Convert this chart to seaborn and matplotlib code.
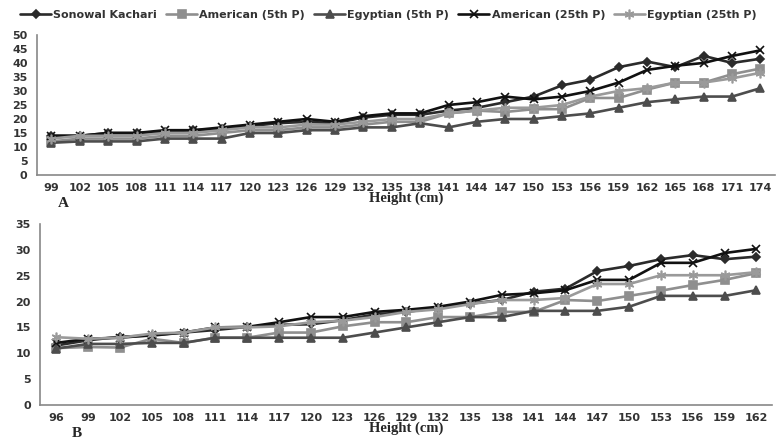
import numpy as np
import pandas as pd
import matplotlib
matplotlib.use("Agg")
import matplotlib.pyplot as plt
import seaborn as sns

# Panel A: height 99-174 cm
heights_a = [99, 102, 105, 108, 111, 114, 117, 120, 123, 126, 129, 132, 135,
             138, 141, 144, 147, 150, 153, 156, 159, 162, 165, 168, 171, 174]
sonowal_a = [14, 14, 15, 15, 15.5, 16, 16.5, 17.5, 18.5, 19, 18.5, 20.5, 21.5,
             21.5, 23, 24, 26, 28, 32, 34, 38.5, 40.5, 38.5, 42.5, 40, 41.5]
american5_a = [12, 13, 13, 13, 14, 14, 15, 16, 16, 17, 17, 18, 19,
               19, 22, 23, 22.5, 23.5, 23.5, 27.5, 27.5, 30.5, 33, 33, 36, 38]
egyptian5_a = [11.5, 12, 12, 12, 13, 13, 13, 15, 15, 16, 16, 17, 17,
               18.5, 17, 19, 20, 20, 21, 22, 24, 26, 27, 28, 28, 31]
american25_a = [14, 14, 15, 15, 16, 16, 17, 18, 19, 20, 19, 21, 22,
                22, 25, 26, 28, 27, 28, 30, 33, 37.5, 39, 40, 42.5, 44.5]
egyptian25_a = [13, 14, 14, 14, 15, 15, 16, 17, 17, 18, 18, 19, 20,
                20, 22, 23, 24, 24, 25, 28, 30, 31, 33, 33, 34.5, 36.5]

# Panel B: height 96-162 cm
heights_b = [96, 99, 102, 105, 108, 111, 114, 117, 120, 123, 126, 129,
             132, 135, 138, 141, 144, 147, 150, 153, 156, 159, 162]
sonowal_b = [11.5, 12.5, 13.2, 13.4, 14, 14.5, 15.1, 15.5, 15.6, 16.4, 17.5, 18,
             18.8, 19.6, 20.3, 21.9, 22.5, 25.9, 26.9, 28.2, 29, 28.2, 28.7]
american5_b = [11, 11.2, 11.1, 12.8, 12, 13, 13, 14, 14, 15.2, 16, 16,
               17, 17, 18, 18, 20.3, 20.1, 21.1, 22.1, 23.2, 24.2, 25.5]
egyptian5_b = [10.9, 11.8, 11.8, 12, 12, 13, 13, 13, 13, 13, 14, 15,
               16, 17, 17, 18.2, 18.2, 18.2, 19, 21.1, 21.1, 21.1, 22.2]
american25_b = [12, 12.8, 13, 13.5, 14, 15, 15.1, 16, 17, 17, 18, 18.4,
                19, 20, 21.3, 21.6, 22.2, 24.2, 24.2, 27.5, 27.5, 29.4, 30.2]
egyptian25_b = [13.1, 12.8, 13, 13.8, 14, 15, 15, 15.2, 16, 16.3, 17, 18,
                18.5, 19.5, 20.3, 20.3, 20.7, 23.4, 23.4, 25.1, 25.1, 25.1, 25.7]

series_names = ["Sonowal Kachari", "American (5th P)", "Egyptian (5th P)",
                "American (25th P)", "Egyptian (25th P)"]
series_colors = ["#2b2b2b", "#8f8f8f", "#4d4d4d", "#111111", "#9a9a9a"]
series_markers = ["D", "s", "^", "x", (6, 2, 0)]
series_msize = [4, 6, 6, 6, 7]

sns.set_style("white")
plt.rcParams['font.family'] = ['DejaVu Sans']

fig = plt.figure(figsize=(7.77, 4.42), dpi=100)
ax_a = fig.add_axes([0.048, 0.604, 0.949, 0.317])
ax_b = fig.add_axes([0.052, 0.084, 0.942, 0.409])


def draw_panel(ax, heights, values, ymax, letter, letter_x, letter_y):
    pos = np.arange(len(heights))
    for name, vals, col, mk, ms in zip(series_names, values, series_colors,
                                       series_markers, series_msize):
        sns.lineplot(x=pos, y=vals, ax=ax, color=col, marker=mk, markersize=ms,
                     markeredgecolor=col, markerfacecolor=col, markeredgewidth=1.2,
                     linewidth=1.9, label=name, legend=False)
    ax.set_xlim(-0.5, len(heights) - 0.5)
    ax.set_ylim(0, ymax)
    ax.set_yticks(np.arange(0, ymax + 1, 5))
    ax.set_xticks(pos)
    ax.set_xticklabels([str(h) for h in heights], fontsize=8, fontweight='bold',
                       color='#333333')
    ax.set_xticks(np.arange(-0.5, len(heights)), minor=True)
    ax.tick_params(axis='x', which='major', length=0, pad=6)
    ax.tick_params(axis='x', which='minor', length=4, color='#888888', direction='out')
    ax.tick_params(axis='y', length=4, color='#888888', direction='out',
                   labelsize=8, labelcolor='#333333', pad=3)
    for lab in ax.get_yticklabels():
        lab.set_fontweight('bold')
    for s in ['top', 'right']:
        ax.spines[s].set_visible(False)
    for s in ['left', 'bottom']:
        ax.spines[s].set_color('#888888')
        ax.spines[s].set_linewidth(1.2)
    ax.set_xlabel("Height (cm)", family='Liberation Serif', fontweight='bold',
                  fontsize=10.5, labelpad=-1)
    ax.text(letter_x, letter_y, letter, transform=ax.transAxes, family='Liberation Serif',
            fontweight='bold', fontsize=11, ha='left', va='center')


draw_panel(ax_a, heights_a,
           [sonowal_a, american5_a, egyptian5_a, american25_a, egyptian25_a],
           50, "A", 0.028, -0.2)
draw_panel(ax_b, heights_b,
           [sonowal_b, american5_b, egyptian5_b, american25_b, egyptian25_b],
           35, "B", 0.043, -0.16)

handles, labels = ax_a.get_legend_handles_labels()
fig.legend(handles, labels, loc='upper center', bbox_to_anchor=(0.5, 1.0), ncol=5,
           frameon=False, handlelength=2.8, columnspacing=0.8, handletextpad=0.2,
           prop={'size': 8.0, 'weight': 'bold'}, labelcolor='#333333')

fig.savefig("out.png", dpi=100)
